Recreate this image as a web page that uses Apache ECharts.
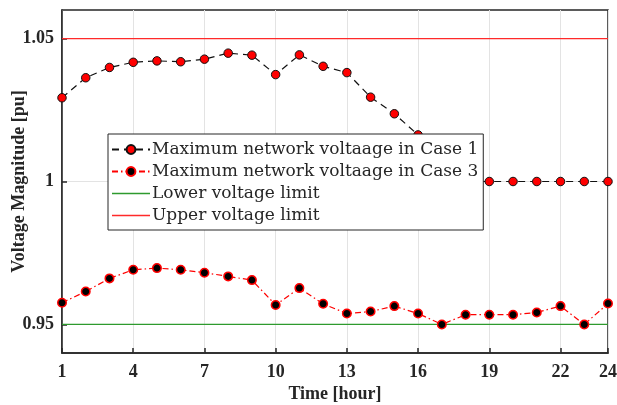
<!DOCTYPE html>
<html>
<head>
<meta charset="utf-8">
<script src="https://cdn.jsdelivr.net/npm/echarts@6/dist/echarts.min.js"></script>
<style>
  html, body { margin: 0; padding: 0; background: #fff; }
  #chart { width: 617px; height: 405px; }
</style>
</head>
<body>
<div id="chart"></div>
<script>
  const hours = [1, 2, 3, 4, 5, 6, 7, 8, 9, 10, 11, 12, 13, 14, 15, 16, 17, 18, 19, 20, 21, 22, 23, 24]
  const case1 = [1.0293, 1.0363, 1.0399, 1.0417, 1.0422, 1.0419, 1.0428, 1.0449, 1.0442, 1.0374, 1.0443, 1.0403,
    1.0381, 1.0295, 1.0237, 1.0163, 1.0060, 1.0000, 1.0000, 1.0000, 1.0000, 1.0000, 1.0000, 1.0000]
  const case3 = [0.9576, 0.9615, 0.9661, 0.9691, 0.9697, 0.9691, 0.9681, 0.9668, 0.9655, 0.9568, 0.9627, 0.9572,
    0.9538, 0.9545, 0.9564, 0.9538, 0.9500, 0.9534, 0.9534, 0.9534, 0.9542, 0.9564, 0.9500, 0.9573]
  const lowerLimit = 0.95
  const upperLimit = 1.05
  const xTicks = [1, 4, 7, 10, 13, 16, 19, 22, 24]
  const yTicks = [0.95, 1, 1.05]
  const names = ['Maximum network voltaage in Case 1', 'Maximum network voltaage in Case 3',
    'Lower voltage limit', 'Upper voltage limit']

  const pairs = vals => hours.map((h, i) => [h, vals[i]])
  const flat = v => hours.map(h => [h, v])

  const chart = echarts.init(document.getElementById('chart'))
  const axisFont = { fontFamily: 'Liberation Serif', fontWeight: 'bold', fontSize: 18, color: '#262626' }
  // plain line icon for the limit entries
  const lineIcon = 'path://M0,0L38,0L38,1.4L0,1.4Z'

  chart.setOption({
    animation: false,
    grid: {
      left: 62, right: 9, top: 10, bottom: 52,
      outerBoundsMode: 'none',
      containLabel: false,
      show: true, borderColor: '#262626', borderWidth: 1.5, backgroundColor: '#fff'
    },
    legend: {
      orient: 'vertical',
      left: 108, top: 134,
      padding: [7, 5, 6, 3],
      itemGap: 5,
      itemWidth: 38, itemHeight: 11,
      backgroundColor: '#fff',
      borderColor: '#262626', borderWidth: 1,
      borderRadius: 0,
      textStyle: { fontFamily: 'DejaVu Serif', fontSize: 17, color: '#262626', padding: [0, 0, 0, -3] },
      data: [
        { name: names[0] },
        { name: names[1] },
        { name: names[2], icon: lineIcon },
        { name: names[3], icon: lineIcon }
      ]
    },
    xAxis: {
      type: 'value',
      min: 1, max: 24,
      name: 'Time [hour]',
      nameLocation: 'middle',
      nameGap: 32,
      nameMoveOverlap: false,
      nameTextStyle: axisFont,
      axisLine: { show: true, lineStyle: { color: '#262626', width: 1.5 } },
      axisTick: { inside: true, length: 5, customValues: xTicks, lineStyle: { color: '#262626', width: 1.5 } },
      axisLabel: Object.assign({ margin: 10, customValues: xTicks }, axisFont),
      splitLine: { show: true, lineStyle: { color: '#e3e3e3', width: 1 } }
    },
    yAxis: {
      type: 'value',
      min: 0.94, max: 1.06,
      name: 'Voltage Magnitude [pu]',
      nameLocation: 'middle',
      nameGap: 34,
      nameMoveOverlap: false,
      nameTextStyle: axisFont,
      axisLine: { show: true, lineStyle: { color: '#262626', width: 1.5 } },
      axisTick: { inside: true, length: 5, customValues: yTicks, lineStyle: { color: '#262626', width: 1.5 } },
      axisLabel: Object.assign({ margin: 8, customValues: yTicks }, axisFont),
      splitLine: { show: true, lineStyle: { color: '#e3e3e3', width: 1 } }
    },
    series: [
      {
        name: names[2],
        type: 'line',
        data: flat(lowerLimit),
        symbol: 'none',
        lineStyle: { color: '#2e9a2e', width: 1.3 },
        itemStyle: { color: '#2e9a2e' },
        z: 2
      },
      {
        name: names[3],
        type: 'line',
        data: flat(upperLimit),
        symbol: 'none',
        lineStyle: { color: '#ff2a2a', width: 1.3 },
        itemStyle: { color: '#ff2a2a' },
        z: 2
      },
      {
        name: names[0],
        type: 'line',
        data: pairs(case1),
        symbol: 'circle',
        symbolSize: 8.5,
        showAllSymbol: true,
        lineStyle: { color: '#111', width: 1.2, type: [7, 5] },
        itemStyle: { color: '#ff0000', borderColor: '#111', borderWidth: 1 },
        z: 3
      },
      {
        name: names[1],
        type: 'line',
        data: pairs(case3),
        symbol: 'circle',
        symbolSize: 8.5,
        showAllSymbol: true,
        lineStyle: { color: '#ff0000', width: 1.2, type: [6, 3, 1.5, 3] },
        itemStyle: { color: '#000', borderColor: '#ff0000', borderWidth: 1.5 },
        z: 3
      }
    ]
  })
</script>
</body>
</html>
